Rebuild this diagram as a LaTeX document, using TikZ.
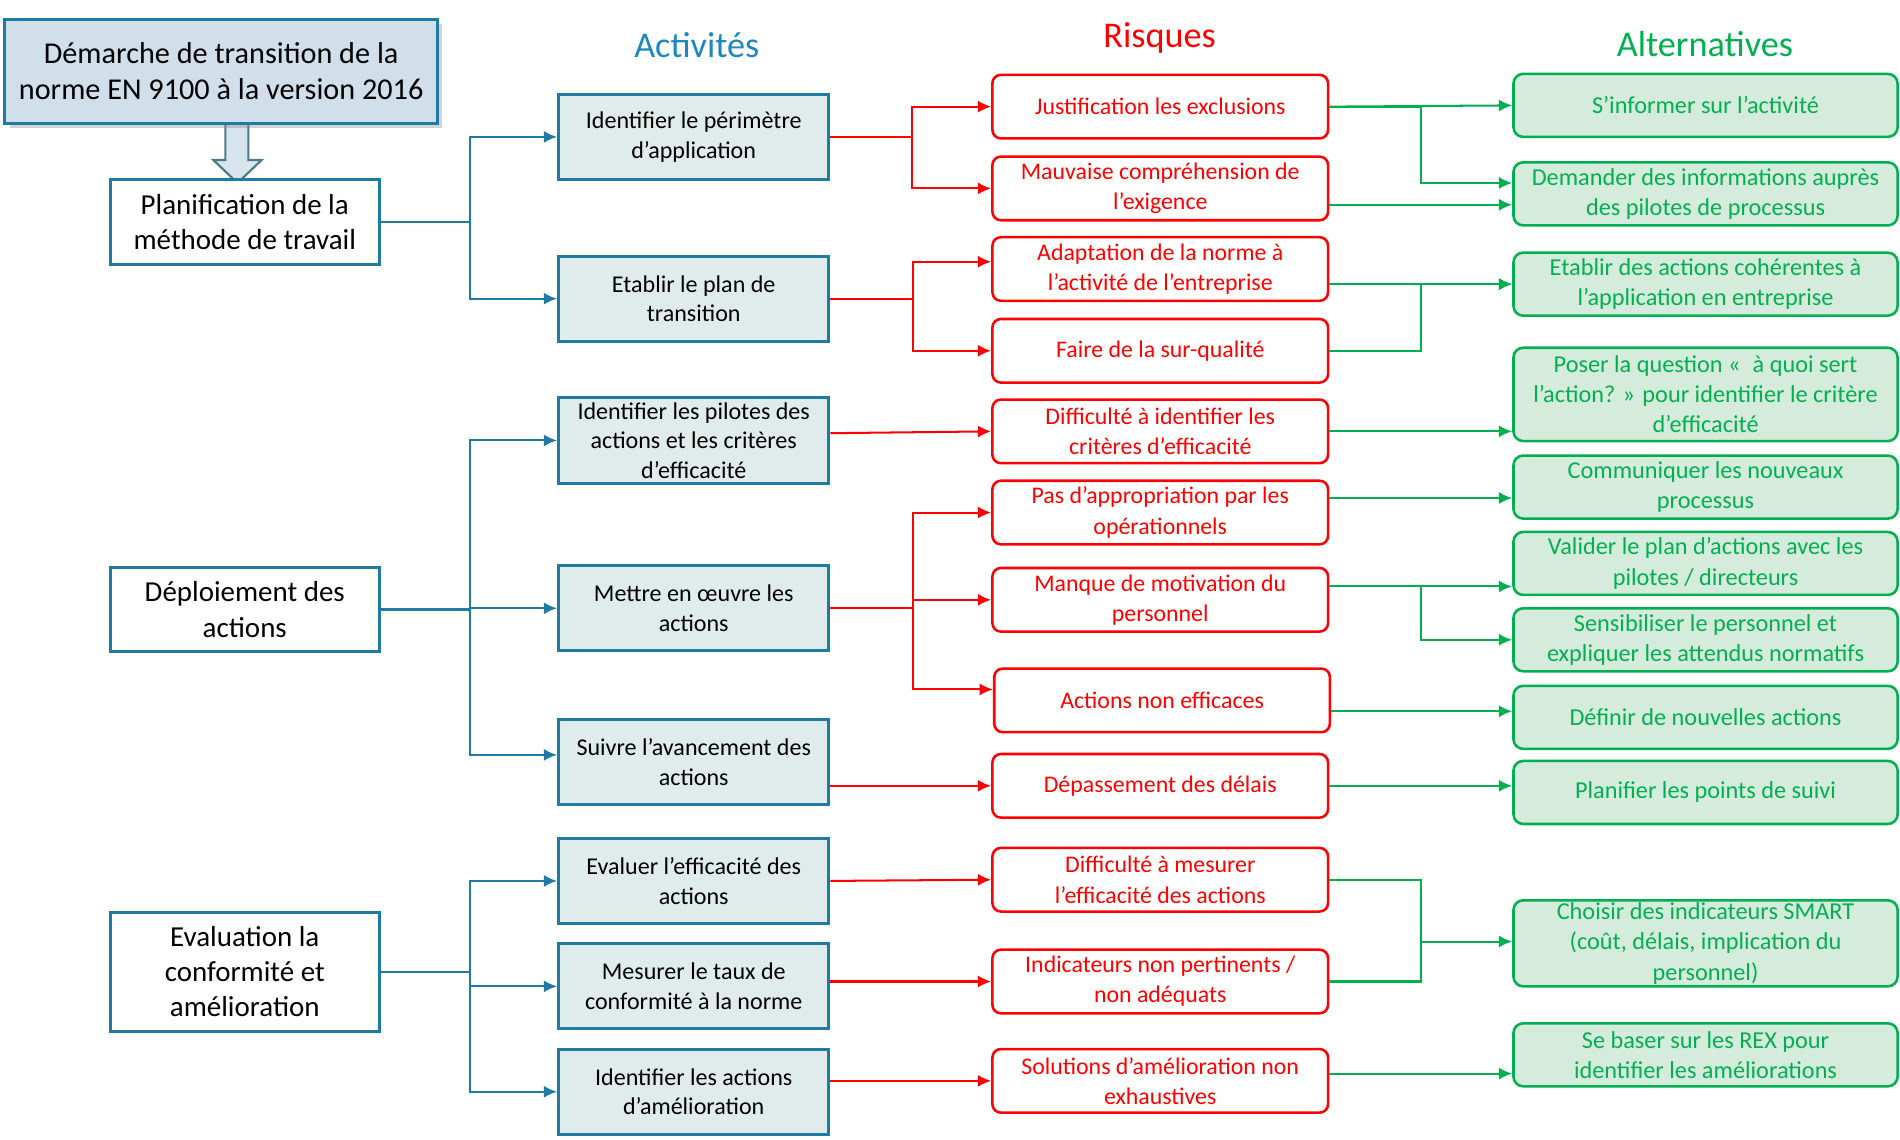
\documentclass[tikz,border=0pt]{standalone}
\usepackage{fontspec}
\setmainfont{Carlito}
\usetikzlibrary{arrows.meta,shadows}

\definecolor{bleutrait}{RGB}{31,123,164}
\definecolor{bleufond}{RGB}{224,236,236}
\definecolor{bleutitre}{RGB}{208,223,234}
\definecolor{bleutexte}{RGB}{30,136,190}
\definecolor{rouge}{RGB}{255,0,0}
\definecolor{vert}{RGB}{0,176,80}
\definecolor{vertfond}{RGB}{213,236,220}
\definecolor{ardoise}{RGB}{74,124,132}

\tikzset{
	boite/.style={draw=bleutrait, line width=1.4pt, rectangle, fill=white, align=center,
		inner sep=0pt, minimum width=44.4mm, minimum height=14mm, font=\fontsize{13.6}{16.5}\selectfont},
	activite/.style={boite, fill=bleufond, minimum width=44.6mm, font=\fontsize{11.3}{13.8}\selectfont},
	risque/.style={draw=rouge, line width=1.2pt, rectangle, rounded corners=1.4mm, fill=white,
		text=rouge, align=center, inner sep=0pt, minimum width=55.4mm, minimum height=10.5mm,
		font=\fontsize{11.2}{14.2}\selectfont},
	alternative/.style={draw=vert, line width=1.2pt, rectangle, rounded corners=1.6mm, fill=vertfond,
		text=vert, align=center, inner sep=0pt, minimum width=63.4mm, minimum height=10.4mm,
		font=\fontsize{11.4}{14.2}\selectfont},
	entete/.style={font=\fontsize{17}{19}\selectfont},
	lienbleu/.style={->, draw=bleutrait, line width=0.95pt},
	lienrouge/.style={->, draw=rouge, line width=0.95pt},
	lienvert/.style={->, draw=vert, line width=0.95pt},
}

\begin{document}
\begin{tikzpicture}[x=0.2mm, y=-0.2mm, >={Latex[length=2.2mm,width=2mm]}]
	\useasboundingbox (0,0) rectangle (1568,940);

	% fleche vers la planification
	\draw[fill=bleutitre!80!white, draw=ardoise, line width=1pt]
	(186,100) -- (186,132) -- (176,132) -- (196,151) -- (216,132) -- (205,132) -- (205,100) -- cycle;

	\node[boite, fill=bleutitre, minimum width=71.4mm, minimum height=17.2mm,
		font=\fontsize{14.2}{16.8}\selectfont,
		drop shadow={shadow xshift=0.8mm, shadow yshift=-0.8mm, opacity=0.35}] (D) at (182.5,59)
	{Démarche de transition de la\\norme EN 9100 à la version 2016};

	\node[boite] (PL) at (202,183)
	{Planification de la\\méthode de travail};
	\node[boite] (DE) at (202,503)
	{Déploiement des\\actions};
	\node[boite, minimum height=19.6mm] (EV) at (202,802)
	{Evaluation la\\conformité et\\amélioration};

	\node[entete, text=bleutexte] (TA) at (575,37) {Activités};
	\node[entete, text=rouge] (TR) at (957,31) {Risques};
	\node[entete, text=vert] (TV) at (1407,36) {Alternatives};

	\node[activite] (A1) at (572.5,113)
	{Identifier le périmètre\\d’application};
	\node[activite] (A2) at (572.5,246.5)
	{Etablir le plan de\\transition};
	\node[activite, minimum height=14.2mm] (A3) at (572.5,363.5)
	{Identifier les pilotes des\\actions et les critères\\d’efficacité};
	\node[activite] (A4) at (572.5,502)
	{Mettre en œuvre les\\actions};
	\node[activite] (A5) at (572.5,629)
	{Suivre l’avancement des\\actions};
	\node[activite] (A6) at (572.5,727)
	{Evaluer l’efficacité des\\actions};
	\node[activite] (A7) at (572.5,814)
	{Mesurer le taux de\\conformité à la norme};
	\node[activite] (A8) at (572.5,901)
	{Identifier les actions\\d’amélioration};

	\node[risque] (R1) at (957.5,88) {Justification les exclusions};
	\node[risque] (R2) at (957.5,155.5) {Mauvaise compréhension de\\l’exigence};
	\node[risque] (R3) at (957.5,222) {Adaptation de la norme à\\l’activité de l’entreprise};
	\node[risque] (R4) at (957.5,289.5) {Faire de la sur-qualité};
	\node[risque] (R5) at (957.5,356) {Difficulté à identifier les\\critères d’efficacité};
	\node[risque] (R6) at (957.5,423) {Pas d’appropriation par les\\opérationnels};
	\node[risque] (R7) at (957.5,495) {Manque de motivation du\\personnel};
	\node[risque] (R8) at (959,578) {Actions non efficaces};
	\node[risque] (R9) at (957.5,648.5) {Dépassement des délais};
	\node[risque] (R10) at (957.5,726) {Difficulté à mesurer\\l’efficacité des actions};
	\node[risque] (R11) at (957.5,810) {Indicateurs non pertinents /\\non adéquats};
	\node[risque] (R12) at (957.5,892) {Solutions d’amélioration non\\exhaustives};

	\node[alternative] (G1) at (1407.5,87) {S’informer sur l’activité};
	\node[alternative] (G2) at (1407.5,160) {Demander des informations auprès\\des pilotes de processus};
	\node[alternative] (G3) at (1407.5,234.5) {Etablir des actions cohérentes à\\l’application en entreprise};
	\node[alternative, minimum height=15.4mm] (G4) at (1407.5,325.5)
	{Poser la question «\enspace à quoi sert\\l’action? » pour identifier le critère\\d’efficacité};
	\node[alternative] (G5) at (1407.5,402) {Communiquer les nouveaux\\processus};
	\node[alternative] (G6) at (1407.5,465) {Valider le plan d’actions avec les\\pilotes / directeurs};
	\node[alternative] (G7) at (1407.5,528) {Sensibiliser le personnel et\\expliquer les attendus normatifs};
	\node[alternative] (G8) at (1407.5,592) {Définir de nouvelles actions};
	\node[alternative] (G9) at (1407.5,654) {Planifier les points de suivi};
	\node[alternative, minimum height=14.2mm] (G10) at (1407.5,778.5)
	{Choisir des indicateurs SMART\\(coût, délais, implication du\\personnel)};
	\node[alternative] (G11) at (1407.5,870.5) {Se baser sur les REX pour\\identifier les améliorations};

	% activites
	\draw[lienbleu] (PL.east) -- ++(74,0) |- (A1.west);
	\draw[lienbleu] (PL.east) -- ++(74,0) |- (A2.west);
	\draw[lienbleu] (DE.east) -- ++(74,0) |- (A3.west);
	\draw[lienbleu] (DE.east) -- ++(74,0) |- (A4.west);
	\draw[lienbleu] (DE.east) -- ++(74,0) |- ([yshift=1.2mm]A5.west);
	\draw[lienbleu] (EV.east) -- ++(74,0) |- (A6.west);
	\draw[lienbleu] (EV.east) -- ++(74,0) |- (A7.west);
	\draw[lienbleu] (EV.east) -- ++(74,0) |- (A8.west);

	% risques
	\draw[lienrouge] (A1.east) -- ++(67,0) |- (R1.west);
	\draw[lienrouge] (A1.east) -- ++(67,0) |- (R2.west);
	\draw[lienrouge] (A2.east) -- ++(68,0) |- ([yshift=1.2mm]R3.west);
	\draw[lienrouge] (A2.east) -- ++(68,0) |- (R4.west);
	\draw[lienrouge] ([yshift=1.2mm]A3.east) -- (R5.west);
	\draw[lienrouge] (A4.east) -- ++(68,0) |- (R6.west);
	\draw[lienrouge] (A4.east) -- ++(68,0) |- (R7.west);
	\draw[lienrouge] (A4.east) -- ++(68,0) |- ([yshift=1.8mm]R8.west);
	\draw[lienrouge] (R9.west -| A5.east) -- (R9.west);
	\draw[lienrouge] (A6.east) -- (R10.west);
	\draw[lienrouge] (R11.west -| A7.east) -- (R11.west);
	\draw[lienrouge] (R12.west -| A8.east) -- (R12.west);

	% alternatives
	\coordinate (g2b) at ([yshift=-1.8mm]G2.west);
	\coordinate (r6) at ([yshift=2.4mm]R6.east);
	\coordinate (r7) at ([yshift=2.2mm]R7.east);
	\coordinate (r8) at ([yshift=-1.8mm]R8.east);
	\coordinate (r12) at ([yshift=1.2mm]R12.east);
	\coordinate (J) at (1173,777);
	\draw[lienvert] (R1.east) -- (G1.west);
	\draw[lienvert] (R1.east) -- ++(76,0) |- ([yshift=1.8mm]G2.west);
	\draw[lienvert] (g2b -| R2.east) -- (g2b);
	\draw[lienvert] (G3.west -| R3.east) -- (G3.west);
	\draw[lienvert] (R4.east) -- ++(76,0) |- (G3.west);
	\draw[lienvert] (R5.east) -- (R5.east -| G4.west);
	\draw[lienvert] (r6) -- (r6 -| G5.west);
	\draw[lienvert] (r7) -- (r7 -| G6.west);
	\draw[lienvert] (r7) -- ++(76,0) |- (G7.west);
	\draw[lienvert] (r8) -- (r8 -| G8.west);
	\draw[lienvert] (R9.east) -- (R9.east -| G9.west);
	\draw[draw=vert, line width=0.95pt] (R10.east) -| (J) |- (R11.east);
	\draw[lienvert] (J) -- (J -| G10.west);
	\draw[lienvert] (r12) -- (r12 -| G11.west);
\end{tikzpicture}
\end{document}
